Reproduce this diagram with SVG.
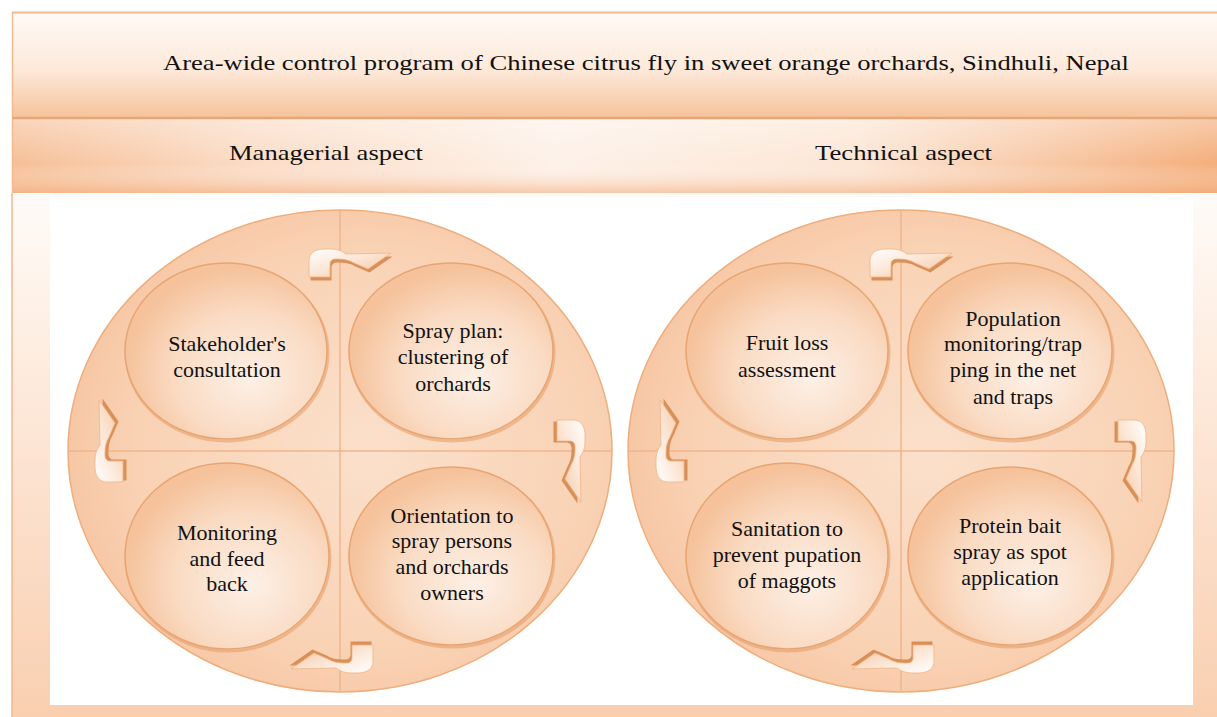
<svg xmlns="http://www.w3.org/2000/svg" width="1217" height="717" viewBox="0 0 1217 717">
  <style>
    .t { font-family: "Liberation Serif", "Times New Roman", serif; font-size: 22px; fill: #111; text-anchor: middle; }
    .h { font-family: "Liberation Serif", "Times New Roman", serif; font-size: 22px; fill: #111; }
    .big { fill: url(#gBig); stroke: #efad7c; stroke-width: 1.5; }
    .quad { stroke: #efb68c; stroke-width: 1.5; fill: none; }
    .inner { fill: url(#gInner); stroke: #e9a571; stroke-width: 1.5; }
    .innerShadow { fill: none; stroke: #e39a66; stroke-width: 3; opacity: 0.55; }
    .arrow { fill: url(#gArrow); stroke: #f0b487; stroke-width: 0.8; }
    .arrowShadow { fill: #d98f58; }
  </style>
  <defs>
    <linearGradient id="gBand1" x1="0" y1="0" x2="0" y2="1">
      <stop offset="0" stop-color="#fffaf6"/>
      <stop offset="0.55" stop-color="#fde9da"/>
      <stop offset="1" stop-color="#f7c39b"/>
    </linearGradient>
    <linearGradient id="gBand2" x1="0" y1="0" x2="1" y2="0">
      <stop offset="0" stop-color="#f6bf96"/>
      <stop offset="0.2" stop-color="#fbdcc6"/>
      <stop offset="0.45" stop-color="#fdf1e8"/>
      <stop offset="0.7" stop-color="#fce6d5"/>
      <stop offset="1" stop-color="#f4ae7b"/>
    </linearGradient>
    <linearGradient id="gBand2v" x1="0" y1="0" x2="0" y2="1">
      <stop offset="0" stop-color="#ffffff" stop-opacity="0.35"/>
      <stop offset="0.6" stop-color="#ffffff" stop-opacity="0"/>
      <stop offset="1" stop-color="#f2a977" stop-opacity="0.55"/>
    </linearGradient>
    <linearGradient id="gContent" x1="0" y1="0" x2="0" y2="1">
      <stop offset="0" stop-color="#fffbf8"/>
      <stop offset="0.4" stop-color="#fde8d9"/>
      <stop offset="1" stop-color="#f9cfb0"/>
    </linearGradient>
    <radialGradient id="gBig" cx="0.55" cy="0.5" r="0.6">
      <stop offset="0" stop-color="#fbe0cb"/>
      <stop offset="0.7" stop-color="#f9d2b4"/>
      <stop offset="1" stop-color="#f6c39f"/>
    </radialGradient>
    <radialGradient id="gInner" cx="0.6" cy="0.62" r="0.6" fx="0.62" fy="0.66">
      <stop offset="0" stop-color="#fdf0e6"/>
      <stop offset="0.6" stop-color="#fadbc3"/>
      <stop offset="1" stop-color="#f5c29b"/>
    </radialGradient>
    <linearGradient id="gArrow" x1="0" y1="0" x2="1" y2="1">
      <stop offset="0" stop-color="#ffffff"/>
      <stop offset="0.45" stop-color="#fce7d7"/>
      <stop offset="1" stop-color="#f5c099"/>
    </linearGradient>
    <g id="arr">
      <path class="arrowShadow" transform="translate(1.5,3.5)" d="M0,28 L0,12 C0,4 6,0 16,0 L22,0 C30,0 34,3 37,5 L82,4 L59,20 L45,14 C40,11 35,10 29,10 L27,10 C23,10 21,12 21,15 L21,28 Z"/>
      <path class="arrow" d="M0,28 L0,12 C0,4 6,0 16,0 L22,0 C30,0 34,3 37,5 L82,4 L59,20 L45,14 C40,11 35,10 29,10 L27,10 C23,10 21,12 21,15 L21,28 Z"/>
    </g>
  </defs>

  <g id="background">
    <rect x="0" y="0" width="1217" height="717" fill="#ffffff"/>
    <rect x="12" y="193" width="1205" height="524" fill="url(#gContent)"/>
    <rect x="50" y="197" width="1143" height="508" fill="#ffffff"/>
    <rect x="12" y="705" width="1205" height="12" fill="#f9cfb0"/>
    <line x1="12" y1="193" x2="12" y2="717" stroke="#f3b78c" stroke-width="1.5"/>
  </g>

  <g id="title">
    <rect x="12" y="12" width="1205" height="105" fill="url(#gBand1)"/>
    <line x1="12" y1="12.5" x2="1217" y2="12.5" stroke="#f4b98e" stroke-width="2"/>
    <line x1="12.5" y1="12" x2="12.5" y2="117" stroke="#f4b98e" stroke-width="1.5"/>
    <text class="h" x="163" y="70" textLength="966" lengthAdjust="spacingAndGlyphs">Area-wide control program of Chinese citrus fly in sweet orange orchards, Sindhuli, Nepal</text>
  </g>

  <g id="aspects">
    <rect x="12" y="119" width="1205" height="74" fill="url(#gBand2)"/>
    <rect x="12" y="119" width="1205" height="74" fill="url(#gBand2v)"/>
    <line x1="12" y1="118" x2="1217" y2="118" stroke="#e3a77c" stroke-width="2.5"/>
    <line x1="12.5" y1="119" x2="12.5" y2="193" stroke="#f4b98e" stroke-width="1.5"/>
    <text class="h" x="229" y="160" textLength="194" lengthAdjust="spacingAndGlyphs">Managerial aspect</text>
    <text class="h" x="815" y="160" textLength="177" lengthAdjust="spacingAndGlyphs">Technical aspect</text>
  </g>

  <g id="managerial-cycle">
    <ellipse class="big" cx="340" cy="451" rx="272" ry="241"/>
    <line class="quad" x1="340" y1="210" x2="340" y2="692"/>
    <line class="quad" x1="68" y1="451" x2="612" y2="451"/>
  </g>
  <g id="m-stakeholder">
    <ellipse class="innerShadow" cx="227" cy="353" rx="101" ry="88"/>
    <ellipse class="inner" cx="226" cy="351" rx="101" ry="88"/>
    <text class="t" x="227" y="351">Stakeholder's</text>
    <text class="t" x="227" y="377">consultation</text>
  </g>
  <g id="m-spray-plan">
    <ellipse class="innerShadow" cx="452" cy="353" rx="102" ry="88"/>
    <ellipse class="inner" cx="451" cy="351" rx="102" ry="88"/>
    <text class="t" x="453" y="338">Spray plan:</text>
    <text class="t" x="453" y="364">clustering of</text>
    <text class="t" x="453" y="391">orchards</text>
  </g>
  <g id="m-monitoring">
    <ellipse class="innerShadow" cx="228" cy="558" rx="102" ry="93"/>
    <ellipse class="inner" cx="227" cy="556" rx="102" ry="93"/>
    <text class="t" x="227" y="540">Monitoring</text>
    <text class="t" x="227" y="566">and feed</text>
    <text class="t" x="227" y="591">back</text>
  </g>
  <g id="m-orientation">
    <ellipse class="innerShadow" cx="452" cy="558" rx="102" ry="89"/>
    <ellipse class="inner" cx="451" cy="556" rx="102" ry="89"/>
    <text class="t" x="452" y="523">Orientation to</text>
    <text class="t" x="452" y="548">spray persons</text>
    <text class="t" x="452" y="574">and orchards</text>
    <text class="t" x="452" y="600">owners</text>
  </g>

  <g id="technical-cycle">
    <ellipse class="big" cx="901" cy="451" rx="273" ry="241"/>
    <line class="quad" x1="901" y1="210" x2="901" y2="692"/>
    <line class="quad" x1="628" y1="451" x2="1174" y2="451"/>
  </g>
  <g id="t-fruit-loss">
    <ellipse class="innerShadow" cx="788" cy="353" rx="101" ry="88"/>
    <ellipse class="inner" cx="787" cy="351" rx="101" ry="88"/>
    <text class="t" x="787" y="350">Fruit loss</text>
    <text class="t" x="787" y="377">assessment</text>
  </g>
  <g id="t-population">
    <ellipse class="innerShadow" cx="1011" cy="353" rx="102" ry="88"/>
    <ellipse class="inner" cx="1010" cy="351" rx="102" ry="88"/>
    <text class="t" x="1013" y="326">Population</text>
    <text class="t" x="1013" y="351">monitoring/trap</text>
    <text class="t" x="1013" y="377">ping in the net</text>
    <text class="t" x="1013" y="404">and traps</text>
  </g>
  <g id="t-sanitation">
    <ellipse class="innerShadow" cx="788" cy="558" rx="101" ry="93"/>
    <ellipse class="inner" cx="787" cy="556" rx="101" ry="93"/>
    <text class="t" x="787" y="536">Sanitation to</text>
    <text class="t" x="787" y="562">prevent pupation</text>
    <text class="t" x="787" y="588">of maggots</text>
  </g>
  <g id="t-protein">
    <ellipse class="innerShadow" cx="1011" cy="558" rx="102" ry="89"/>
    <ellipse class="inner" cx="1010" cy="556" rx="102" ry="89"/>
    <text class="t" x="1010" y="533">Protein bait</text>
    <text class="t" x="1010" y="559">spray as spot</text>
    <text class="t" x="1010" y="585">application</text>
  </g>

  <g id="connectors">
    <use href="#arr" transform="translate(309,249)"/>
    <use href="#arr" transform="translate(585,420) rotate(90)"/>
    <use href="#arr" transform="translate(373,673) rotate(180)"/>
    <use href="#arr" transform="translate(95,482) rotate(270)"/>
    <use href="#arr" transform="translate(870,249)"/>
    <use href="#arr" transform="translate(1146,420) rotate(90)"/>
    <use href="#arr" transform="translate(934,673) rotate(180)"/>
    <use href="#arr" transform="translate(656,482) rotate(270)"/>
  </g>
</svg>
